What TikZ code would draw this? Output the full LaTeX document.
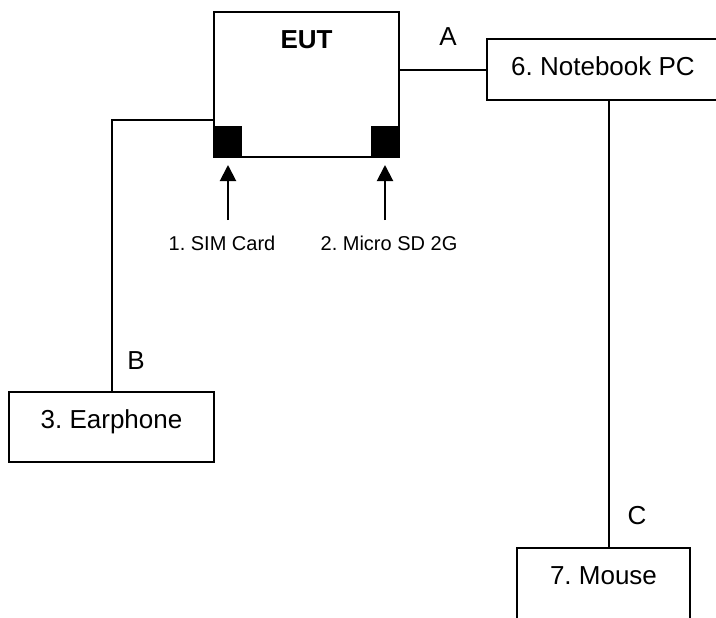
\documentclass[tikz,border=0pt]{standalone}
\usepackage{fontspec}
\setmainfont{Liberation Sans}
\usetikzlibrary{arrows.meta}
\frenchspacing
\tikzset{
    box/.style={draw, anchor=north west, inner sep=0pt, text height=18pt},
    slot/.style={fill=black, inner sep=0pt, minimum width=14pt, minimum height=15.5pt},
    arr/.style={-{Triangle[width=8pt, length=8pt]}},
    small/.style={font=\fontsize{10}{12}\selectfont}
}
\begin{document}
\begin{tikzpicture}[x=0.5pt, y=-0.5pt, line width=1pt, font=\fontsize{13}{15}\selectfont]
        \useasboundingbox (0, 0) rectangle (716, 617);
        % devices
        \node [box, minimum width=92.5pt, text depth=54.5pt, font=\fontsize{13}{15}\selectfont\bfseries] (eut) at (213, 11) {EUT};
        \node [box, minimum width=116pt, text depth=12.5pt] (nb) at (486, 38) {6. Notebook PC};
        \node [box, minimum width=102.5pt, text depth=17pt] (ear) at (8, 391) {3. Earphone};
        \node [box, minimum width=86.5pt, text depth=20pt] (mouse) at (516, 547) {7. Mouse};
        % card slots
        \node [slot, anchor=south west] (sim) at (eut.south west) {};
        \node [slot, anchor=south east] (sd) at (eut.south east) {};
        \node [small] (simlbl) at (222, 243) {1. SIM Card};
        \node [small] (sdlbl) at (389, 243) {2. Micro SD 2G};
        \draw [arr, shorten <=4pt, shorten >=3.5pt] (simlbl.north -| sim.south) -- (sim.south);
        \draw [arr, shorten <=4pt, shorten >=3.5pt] (sdlbl.north -| sd.south) -- (sd.south);
        % cables
        \draw ([yshift=19pt]eut.south west) -| (ear.north);
        \draw (eut.east |- nb.west) -- (nb.west);
        \coordinate (mtop) at ([xshift=2.5pt]mouse.north);
        \draw (mtop) -- (mtop |- nb.south);
        \node (la) at (448, 37) {A};
        \node (lb) at (136, 361) {B};
        \node (lc) at (637, 516) {C};
    \end{tikzpicture}
\end{document}
